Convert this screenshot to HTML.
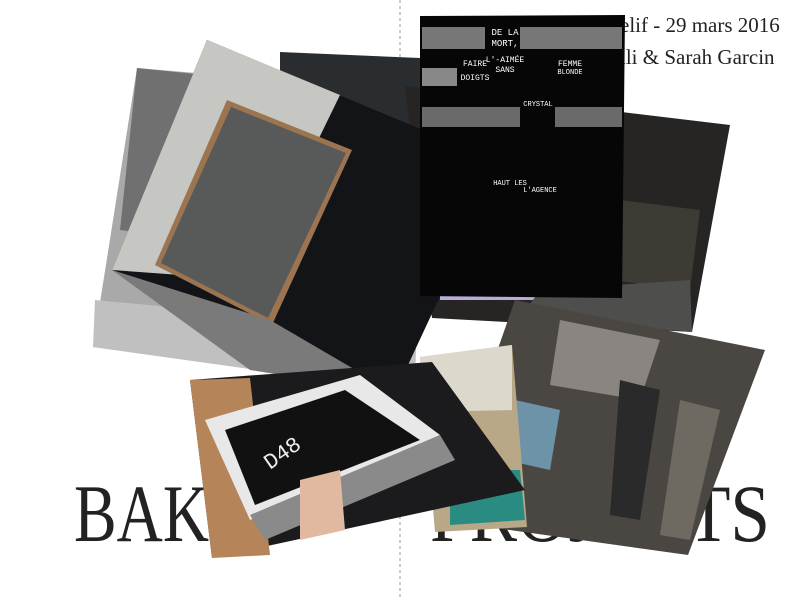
<!DOCTYPE html>
<html><head><meta charset="utf-8"><style>
html,body{margin:0;padding:0;background:#fff;}
#wrap{position:relative;width:800px;height:600px;overflow:hidden;background:#fff;}
svg{position:absolute;left:0;top:0;}
.t{font-family:"Liberation Serif",serif;fill:#222;}
</style></head><body>
<div id="wrap">
<svg width="800" height="600">
<line x1="400" y1="0" x2="400" y2="600" stroke="#999" stroke-dasharray="3,3"/>
<text class="t" x="620" y="32" font-size="21">elif - 29 mars 2016</text>
<text class="t" x="620" y="64" font-size="21">lli &amp; Sarah Garcin</text>
<text class="t" x="74" y="541" font-size="82" textLength="135" lengthAdjust="spacingAndGlyphs">BAK</text>
<text class="t" x="430" y="541" font-size="82" textLength="340" lengthAdjust="spacingAndGlyphs">PROJECTS</text>

<g>
<polygon points="137,68 420,92 415,392 93,347" fill="#a9a9a9"/>
<polygon points="137,68 300,85 280,250 120,230" fill="#707070"/>
<polygon points="95,300 415,330 415,392 93,347" fill="#c0c0c0"/>
</g>
<g>
<polygon points="280,52 420,58 420,130 280,120" fill="#2a2d30"/>
</g>
<g>
<polygon points="405,86 730,125 692,332 432,318" fill="#262523"/>
<polygon points="620,200 700,210 690,290 610,280" fill="#3e3a34"/>
<polygon points="440,230 555,235 550,300 440,300" fill="#b9acd8"/>
<polygon points="540,290 690,280 692,332 520,318" fill="#4e4e4c"/>
</g>
<g>
<polygon points="207,40 502,163 395,393 112,270" fill="#121418"/>
<polygon points="207,40 340,95 250,280 112,270" fill="#c6c7c3"/>
<polygon points="227,100 352,150 272,325 155,265" fill="#9c7450"/>
<polygon points="231,107 346,153 268,318 161,263" fill="#585a5a"/>
<polygon points="112,270 270,320 395,393 250,370" fill="#7a7a7a"/>
</g>
<g>
<polygon points="420,16 625,15 622,298 420,296" fill="#060606"/>
<rect x="422" y="27" width="200" height="22" fill="#777"/>
<rect x="422" y="68" width="35" height="18" fill="#888"/>
<rect x="422" y="107" width="200" height="20" fill="#6a6a6a"/>
<rect x="485" y="27" width="35" height="22" fill="#060606"/>
<rect x="520" y="107" width="35" height="20" fill="#060606"/>
<text x="505" y="35" font-size="9" fill="#fff" font-family="Liberation Mono,monospace" text-anchor="middle">DE LA</text>
<text x="505" y="46" font-size="9" fill="#fff" font-family="Liberation Mono,monospace" text-anchor="middle">MORT,</text>
<text x="505" y="62" font-size="8" fill="#fff" font-family="Liberation Mono,monospace" text-anchor="middle">L'-AIMÉE</text>
<text x="505" y="72" font-size="8" fill="#fff" font-family="Liberation Mono,monospace" text-anchor="middle">SANS</text>
<text x="475" y="66" font-size="8" fill="#fff" font-family="Liberation Mono,monospace" text-anchor="middle">FAIRE</text>
<text x="475" y="80" font-size="8" fill="#fff" font-family="Liberation Mono,monospace" text-anchor="middle">DOIGTS</text>
<text x="570" y="66" font-size="8" fill="#fff" font-family="Liberation Mono,monospace" text-anchor="middle">FEMME</text>
<text x="570" y="74" font-size="7" fill="#fff" font-family="Liberation Mono,monospace" text-anchor="middle">BLONDE</text>
<text x="538" y="106" font-size="7" fill="#fff" font-family="Liberation Mono,monospace" text-anchor="middle">CRYSTAL</text>
<text x="510" y="185" font-size="7" fill="#fff" font-family="Liberation Mono,monospace" text-anchor="middle">HAUT LES</text>
<text x="540" y="192" font-size="7" fill="#fff" font-family="Liberation Mono,monospace" text-anchor="middle">L'AGENCE</text>
</g>
<g>
<polygon points="515,300 765,350 688,555 438,520" fill="#4a4743"/>
<polygon points="560,320 660,340 640,400 550,385" fill="#8a8580"/>
<polygon points="515,400 560,410 550,470 505,460" fill="#6d93a8"/>
<polygon points="620,380 660,390 640,520 610,515" fill="#2a2a2a"/>
<polygon points="680,400 720,410 690,540 660,535" fill="#6e6a62"/>
</g>
<g>
<polygon points="420,357 512,345 527,527 435,532" fill="#b8a888"/>
<polygon points="420,357 512,345 512,410 420,412" fill="#dcd8cc"/>
<polygon points="450,470 520,470 525,520 450,525" fill="#2a8b82"/>
</g>
<g>
<polygon points="190,380 432,362 525,490 212,558" fill="#1b1b1d"/>
<polygon points="190,380 250,378 270,555 212,558" fill="#b58458"/>
<polygon points="205,420 360,375 440,435 250,520" fill="#e8e8e8"/>
<polygon points="225,430 345,390 420,440 255,505" fill="#111"/>
<polygon points="250,515 440,435 455,460 265,540" fill="#8a8a8a"/>
<polygon points="300,480 340,470 345,530 300,540" fill="#e0b9a0"/>
<text x="270" y="470" font-size="22" fill="#eee" font-family="Liberation Mono,monospace" transform="rotate(-35 270 470)">D48</text>
</g>
</svg>
</div>
</body></html>
